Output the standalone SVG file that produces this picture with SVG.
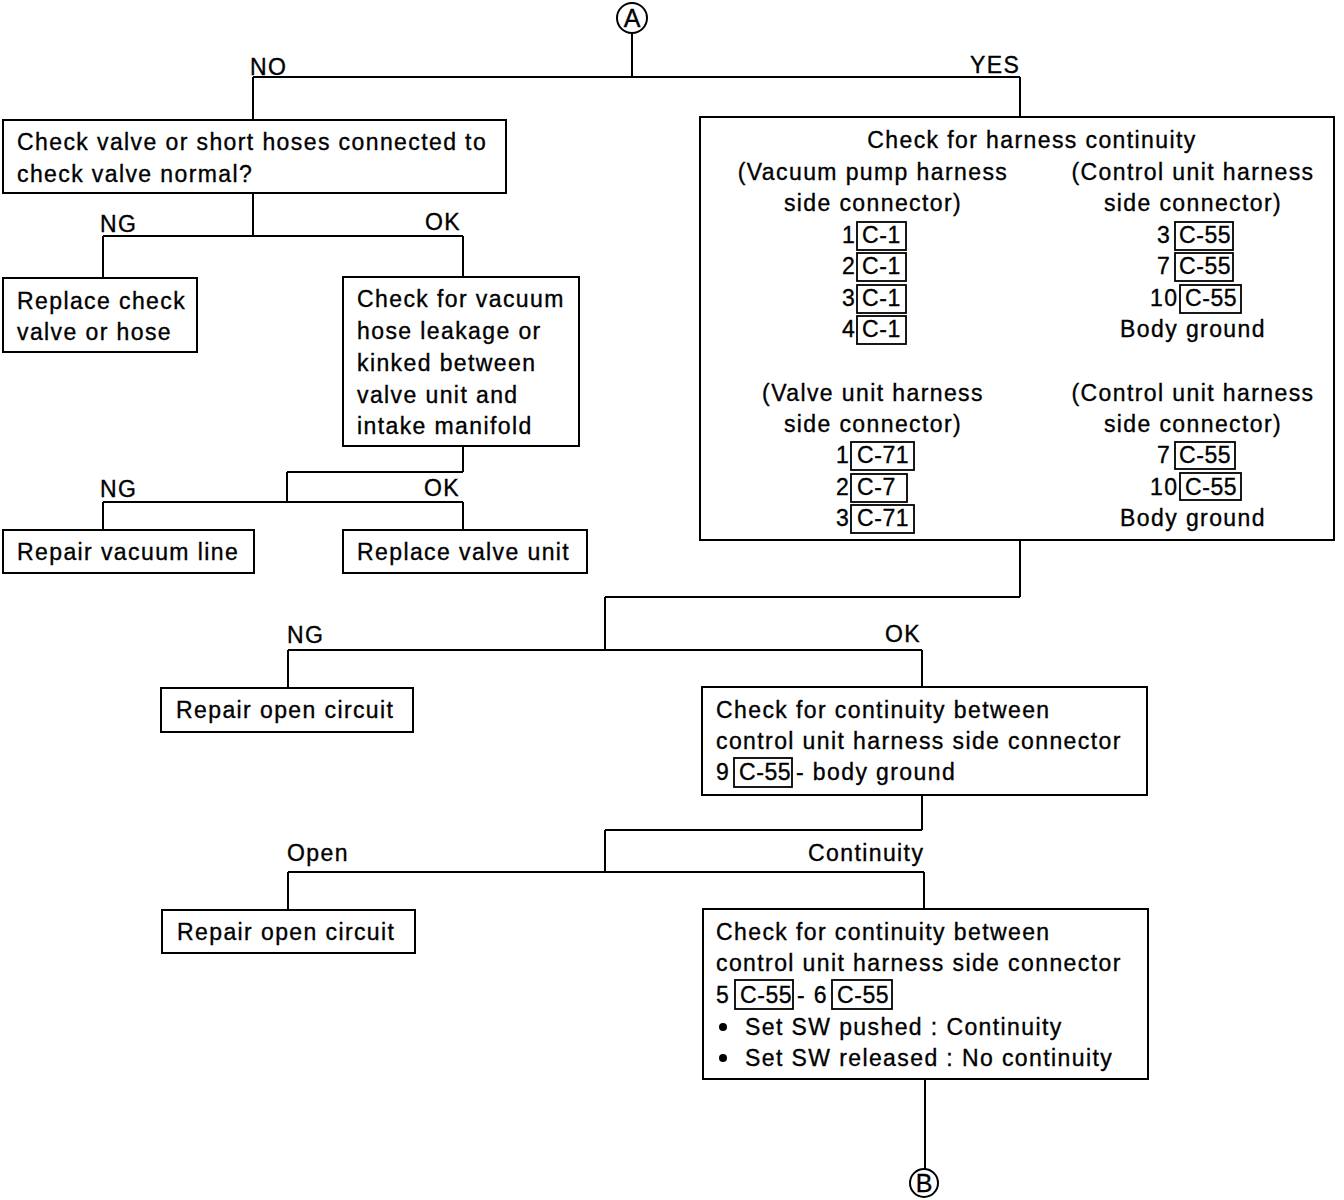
<svg xmlns="http://www.w3.org/2000/svg" width="1344" height="1200" viewBox="0 0 1344 1200">
<style>
text{font-family:"Liberation Sans",Arial,sans-serif;font-size:23px;letter-spacing:1.4px;fill:#000;stroke:#000;stroke-width:0.35px}
.c{text-anchor:middle}
.k{letter-spacing:0.6px}
.cl{font-size:25px;letter-spacing:0}
.box{fill:#fff;stroke:#000;stroke-width:2}
.cb{fill:none;stroke:#000;stroke-width:1.8}
.ln{fill:none;stroke:#000;stroke-width:2}
</style>
<rect width="1344" height="1200" fill="#fff"/>
<g id="connectors">
<path class="ln" d="M632 32V77M253 77H1020M253 77V120M1020 77V117"/>
<path class="ln" d="M253 193V236M103 236H463M103 236V278M463 236V277"/>
<path class="ln" d="M463 446V472M287 472H463M287 472V502M103 502H463M103 502V530M463 502V530"/>
<path class="ln" d="M1020 540V597M605 597H1020M605 597V650M288 650H922M288 650V688M922 650V687"/>
<path class="ln" d="M922 795V830M605 830H922M605 830V872M288 872H924M288 872V910M924 872V909"/>
<path class="ln" d="M925 1079V1169"/>
<text x="250" y="75">NO</text>
<text x="970" y="73">YES</text>
<text x="100" y="232">NG</text>
<text x="425" y="230">OK</text>
<text x="100" y="497">NG</text>
<text x="424" y="496">OK</text>
<text x="287" y="643">NG</text>
<text x="885" y="642">OK</text>
<text x="287" y="861">Open</text>
<text x="808" y="861">Continuity</text>
</g>
<g id="A">
<circle cx="632" cy="18" r="15" fill="#fff" stroke="#000" stroke-width="2"/>
<text x="632" y="27" class="c cl">A</text>
</g>
<g id="n1">
<rect class="box" x="3" y="120" width="503" height="73"/>
<text x="17" y="150">Check valve or short hoses connected to</text>
<text x="17" y="182">check valve normal?</text>
</g>
<g id="n2">
<rect class="box" x="3" y="278" width="194" height="74"/>
<text x="17" y="309">Replace check</text>
<text x="17" y="340">valve or hose</text>
</g>
<g id="n3">
<rect class="box" x="343" y="277" width="236" height="169"/>
<text x="357" y="307">Check for vacuum</text>
<text x="357" y="339">hose leakage or</text>
<text x="357" y="371">kinked between</text>
<text x="357" y="403">valve unit and</text>
<text x="357" y="434">intake manifold</text>
</g>
<g id="n4">
<rect class="box" x="3" y="530" width="251" height="43"/>
<text x="17" y="560">Repair vacuum line</text>
</g>
<g id="n5">
<rect class="box" x="343" y="530" width="244" height="43"/>
<text x="357" y="560">Replace valve unit</text>
</g>
<g id="n6">
<rect class="box" x="700" y="117" width="634" height="423"/>
<text x="1032" y="148" class="c">Check for harness continuity</text>
<text x="873" y="180" class="c">(Vacuum pump harness</text>
<text x="873" y="211" class="c">side connector)</text>
<text x="1193" y="180" class="c">(Control unit harness</text>
<text x="1193" y="211" class="c">side connector)</text>
<text x="842" y="243">1</text><rect class="cb" x="857" y="222" width="49" height="28"/><text class="k" x="862" y="243">C-1</text>
<text x="842" y="274">2</text><rect class="cb" x="857" y="253" width="49" height="28"/><text class="k" x="862" y="274">C-1</text>
<text x="842" y="306">3</text><rect class="cb" x="857" y="285" width="49" height="28"/><text class="k" x="862" y="306">C-1</text>
<text x="842" y="337">4</text><rect class="cb" x="857" y="316" width="49" height="28"/><text class="k" x="862" y="337">C-1</text>
<text x="1157" y="243">3</text><rect class="cb" x="1175" y="222" width="58" height="28"/><text class="k" x="1179" y="243">C-55</text>
<text x="1157" y="274">7</text><rect class="cb" x="1175" y="253" width="58" height="28"/><text class="k" x="1179" y="274">C-55</text>
<text x="1150" y="306">10</text><rect class="cb" x="1180" y="285" width="61" height="28"/><text class="k" x="1185" y="306">C-55</text>
<text x="1193" y="337" class="c">Body ground</text>
<text x="873" y="401" class="c">(Valve unit harness</text>
<text x="873" y="432" class="c">side connector)</text>
<text x="1193" y="401" class="c">(Control unit harness</text>
<text x="1193" y="432" class="c">side connector)</text>
<text x="836" y="463">1</text><rect class="cb" x="851" y="442" width="63" height="28"/><text class="k" x="857" y="463">C-71</text>
<text x="836" y="495">2</text><rect class="cb" x="851" y="474" width="56" height="28"/><text class="k" x="857" y="495">C-7</text>
<text x="836" y="526">3</text><rect class="cb" x="851" y="505" width="63" height="28"/><text class="k" x="857" y="526">C-71</text>
<text x="1157" y="463">7</text><rect class="cb" x="1175" y="442" width="60" height="27"/><text class="k" x="1179" y="463">C-55</text>
<text x="1150" y="495">10</text><rect class="cb" x="1180" y="473" width="61" height="27"/><text class="k" x="1185" y="495">C-55</text>
<text x="1193" y="526" class="c">Body ground</text>
</g>
<g id="n7">
<rect class="box" x="161" y="688" width="252" height="44"/>
<text x="176" y="718">Repair open circuit</text>
</g>
<g id="n8">
<rect class="box" x="702" y="687" width="445" height="108"/>
<text x="716" y="718">Check for continuity between</text>
<text x="716" y="749">control unit harness side connector</text>
<text x="716" y="780">9</text><rect class="cb" x="734" y="758" width="58" height="29"/><text class="k" x="739" y="780">C-55</text>
<text x="796" y="780">- body ground</text>
</g>
<g id="n9">
<rect class="box" x="162" y="910" width="253" height="43"/>
<text x="177" y="940">Repair open circuit</text>
</g>
<g id="n10">
<rect class="box" x="703" y="909" width="445" height="170"/>
<text x="716" y="940">Check for continuity between</text>
<text x="716" y="971">control unit harness side connector</text>
<text x="716" y="1003">5</text><rect class="cb" x="735" y="980" width="58" height="29"/><text class="k" x="740" y="1003">C-55</text>
<text x="797" y="1003">- 6</text><rect class="cb" x="832" y="980" width="60" height="29"/><text class="k" x="837" y="1003">C-55</text>
<circle cx="723" cy="1027" r="4"/>
<text x="745" y="1035">Set SW pushed : Continuity</text>
<circle cx="723" cy="1058" r="4"/>
<text x="745" y="1066">Set SW released : No continuity</text>
</g>
<g id="B">
<circle cx="924" cy="1183" r="14" fill="#fff" stroke="#000" stroke-width="2"/>
<text x="924" y="1192" class="c cl">B</text>
</g>
</svg>
